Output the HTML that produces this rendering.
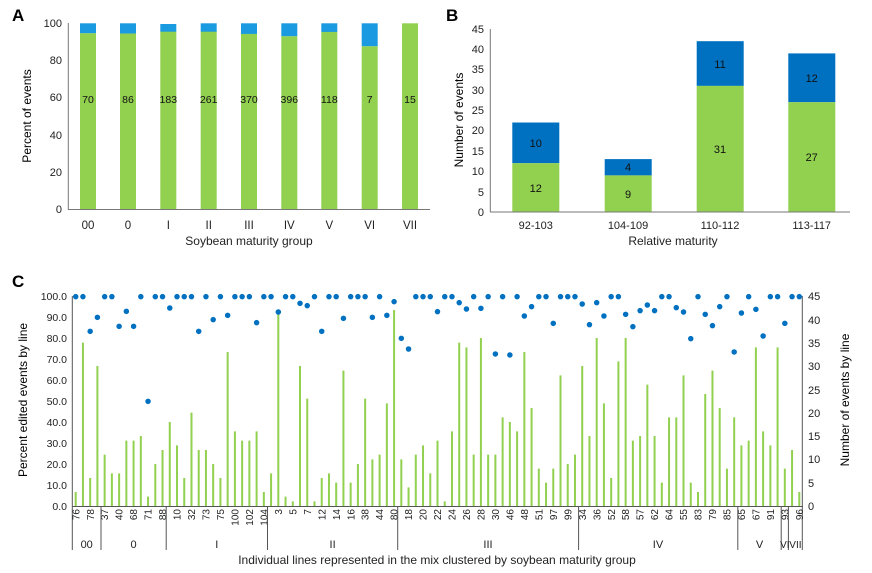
<!DOCTYPE html><html><head><meta charset="utf-8"><style>body{margin:0;background:#fff}svg{display:block;font-family:"Liberation Sans",Arial,sans-serif}</style></head><body>
<svg width="872" height="573" viewBox="0 0 872 573" xmlns="http://www.w3.org/2000/svg">
<rect width="872" height="573" fill="#fff"/>
<!-- Panel A -->
<text x="12" y="21" font-size="17" font-weight="bold">A</text>
<g font-size="11" fill="#222" text-anchor="end">
<text x="62" y="213">0</text><text x="62" y="176">20</text><text x="62" y="139">40</text><text x="62" y="101">60</text><text x="62" y="64">80</text><text x="62" y="27">100</text></g>
<text transform="translate(31,116) rotate(-90)" font-size="12" text-anchor="middle">Percent of events</text>
<g>
<rect x="80" y="23.3" width="16" height="10" fill="#1a9ae0"/><rect x="80" y="33.3" width="16" height="176" fill="#92d050"/>
<rect x="120" y="23.3" width="16" height="10.3" fill="#1a9ae0"/><rect x="120" y="33.5" width="16" height="176" fill="#92d050"/>
<rect x="160.3" y="24" width="16" height="8" fill="#1a9ae0"/><rect x="160.3" y="31.7" width="16" height="178" fill="#92d050"/>
<rect x="200.7" y="23.3" width="16" height="9" fill="#1a9ae0"/><rect x="200.7" y="31.7" width="16" height="178" fill="#92d050"/>
<rect x="241" y="23.3" width="16" height="11" fill="#1a9ae0"/><rect x="241" y="33.9" width="16" height="176" fill="#92d050"/>
<rect x="281.3" y="23.3" width="16" height="13" fill="#1a9ae0"/><rect x="281.3" y="36.3" width="16" height="173" fill="#92d050"/>
<rect x="321.3" y="23.3" width="16" height="9" fill="#1a9ae0"/><rect x="321.3" y="31.9" width="16" height="178" fill="#92d050"/>
<rect x="361.7" y="23.3" width="16" height="23" fill="#1a9ae0"/><rect x="361.7" y="46.3" width="16" height="163" fill="#92d050"/>
<rect x="402" y="23.3" width="16" height="186" fill="#92d050"/>
</g>
<line x1="68.3" y1="23" x2="68.3" y2="209.5" stroke="#777"/><line x1="68" y1="209.5" x2="430" y2="209.5" stroke="#777"/>
<g font-size="10.5" text-anchor="middle" fill="#111">
<text x="88" y="103">70</text><text x="128" y="103">86</text><text x="168.3" y="103">183</text><text x="208.7" y="103">261</text><text x="249" y="103">370</text><text x="289.3" y="103">396</text><text x="329.3" y="103">118</text><text x="369.7" y="103">7</text><text x="410" y="103">15</text></g>
<g font-size="11.5" text-anchor="middle" fill="#222">
<text x="88" y="229">00</text><text x="128" y="229">0</text><text x="168.3" y="229">I</text><text x="208.7" y="229">II</text><text x="249" y="229">III</text><text x="289.3" y="229">IV</text><text x="329.3" y="229">V</text><text x="369.7" y="229">VI</text><text x="410" y="229">VII</text>
<text x="249" y="245" font-size="12">Soybean maturity group</text></g>
<!-- Panel B -->
<text x="446" y="21" font-size="17" font-weight="bold">B</text>
<g font-size="11" fill="#222" text-anchor="end">
<text x="484" y="216">0</text><text x="484" y="196">5</text><text x="484" y="175">10</text><text x="484" y="155">15</text><text x="484" y="134">20</text><text x="484" y="114">25</text><text x="484" y="94">30</text><text x="484" y="73">35</text><text x="484" y="53">40</text><text x="484" y="33">45</text></g>
<text transform="translate(463,120) rotate(-90)" font-size="12" text-anchor="middle">Number of events</text>
<rect x="512.3" y="122.5" width="47" height="40.7" fill="#0070c0"/><rect x="512.3" y="163.2" width="47" height="48.8" fill="#92d050"/>
<rect x="604.7" y="159.1" width="47" height="16.3" fill="#0070c0"/><rect x="604.7" y="175.4" width="47" height="36.6" fill="#92d050"/>
<rect x="696.7" y="41.2" width="47" height="44.7" fill="#0070c0"/><rect x="696.7" y="85.9" width="47" height="126.1" fill="#92d050"/>
<rect x="788.3" y="53.4" width="47" height="48.8" fill="#0070c0"/><rect x="788.3" y="102.2" width="47" height="109.8" fill="#92d050"/>
<line x1="490.3" y1="29" x2="490.3" y2="212" stroke="#777"/><line x1="490" y1="212" x2="850" y2="212" stroke="#777"/>
<g font-size="11" text-anchor="middle" fill="#111">
<text x="535.8" y="147">10</text><text x="535.8" y="192">12</text><text x="628" y="171">4</text><text x="628" y="198">9</text><text x="720" y="68">11</text><text x="720" y="153">31</text><text x="811.7" y="82">12</text><text x="811.7" y="161">27</text></g>
<g font-size="11" text-anchor="middle" fill="#222">
<text x="535.8" y="229">92-103</text><text x="628" y="229">104-109</text><text x="720" y="229">110-112</text><text x="811.7" y="229">113-117</text>
<text x="673" y="245" font-size="12">Relative maturity</text></g>
<!-- Panel C -->
<text x="12" y="287" font-size="17" font-weight="bold">C</text>
<g font-size="10.5" fill="#222" text-anchor="end">
<text x="67" y="510">0.0</text><text x="67" y="489">10.0</text><text x="67" y="468">20.0</text><text x="67" y="447">30.0</text><text x="67" y="426">40.0</text><text x="67" y="405">50.0</text><text x="67" y="384">60.0</text><text x="67" y="363">70.0</text><text x="67" y="342">80.0</text><text x="67" y="321">90.0</text><text x="67" y="300">100.0</text></g>
<g font-size="11" fill="#222">
<text x="808" y="510">0</text><text x="808" y="487">5</text><text x="808" y="463">10</text><text x="808" y="440">15</text><text x="808" y="417">20</text><text x="808" y="394">25</text><text x="808" y="370">30</text><text x="808" y="347">35</text><text x="808" y="324">40</text><text x="808" y="300">45</text></g>
<text transform="translate(27,400) rotate(-90)" font-size="12" text-anchor="middle">Percent edited events by line</text>
<text transform="translate(849,400) rotate(-90)" font-size="12" text-anchor="middle">Number of events by line</text>
<line x1="72.3" y1="296" x2="72.3" y2="550" stroke="#555"/><line x1="802.3" y1="296" x2="802.3" y2="550" stroke="#555"/>
<line x1="72" y1="506.5" x2="803" y2="506.5" stroke="#555"/>
<g transform="translate(75.7,506) scale(7.236,-4.667)" stroke="#92d050" fill="none">
<path vector-effect="non-scaling-stroke" stroke-width="2" d="M0 0V3M1 0V35M2 0V6M3 0V30M4 0V11M5 0V7M6 0V7M7 0V14M8 0V14M9 0V15M10 0V2M11 0V9M12 0V12M13 0V18M14 0V13M15 0V6M16 0V20M17 0V12M18 0V12M19 0V9M20 0V6M21 0V33M22 0V16M23 0V14M24 0V14M25 0V16M26 0V3M27 0V7M28 0V41M29 0V2M30 0V1M31 0V30M32 0V23M33 0V1M34 0V6M35 0V7M36 0V5M37 0V29M38 0V5M39 0V9M40 0V23M41 0V10M42 0V11M43 0V22M44 0V42M45 0V10M46 0V4M47 0V11M48 0V13M49 0V7M50 0V14M51 0V1M52 0V16M53 0V35M54 0V34M55 0V11M56 0V36M57 0V11M58 0V11M59 0V19M60 0V18M61 0V16M62 0V33M63 0V21M64 0V8M65 0V5M66 0V8M67 0V28M68 0V9M69 0V11M70 0V30M71 0V15M72 0V36M73 0V22M74 0V6M75 0V31M76 0V36M77 0V14M78 0V15M79 0V26M80 0V15M81 0V5M82 0V19M83 0V19M84 0V28M85 0V5M86 0V3M87 0V24M88 0V29M89 0V21M90 0V8M91 0V19M92 0V13M93 0V14M94 0V34M95 0V16M96 0V13M97 0V34M98 0V8M99 0V12M100 0V3"/>
</g>
<g transform="translate(75.7,280) scale(7.236,0.3333)" stroke="#0070c0" fill="none">
<path vector-effect="non-scaling-stroke" stroke-width="5.5" stroke-linecap="round" d="M0 50h0M1 50h0M2 154h0M3 112h0M4 50h0M5 50h0M6 139h0M7 94h0M8 139h0M9 50h0M10 364h0M11 50h0M12 50h0M13 84h0M14 50h0M15 50h0M16 50h0M17 154h0M18 50h0M19 119h0M20 50h0M21 106h0M22 50h0M23 50h0M24 50h0M25 128h0M26 50h0M27 50h0M28 96h0M29 50h0M30 50h0M31 70h0M32 77h0M33 50h0M34 154h0M35 50h0M36 50h0M37 115h0M38 50h0M39 50h0M40 50h0M41 112h0M42 50h0M43 106h0M44 65h0M45 175h0M46 207h0M47 50h0M48 50h0M49 50h0M50 95h0M51 50h0M52 50h0M53 68h0M54 87h0M55 50h0M56 85h0M57 50h0M58 222h0M59 50h0M60 225h0M61 50h0M62 108h0M63 80h0M64 50h0M65 50h0M66 130h0M67 50h0M68 50h0M69 50h0M70 72h0M71 134h0M72 68h0M73 108h0M74 50h0M75 50h0M76 103h0M77 140h0M78 92h0M79 75h0M80 92h0M81 50h0M82 50h0M83 83h0M84 96h0M85 176h0M86 50h0M87 103h0M88 137h0M89 80h0M90 50h0M91 216h0M92 99h0M93 50h0M94 88h0M95 168h0M96 50h0M97 50h0M98 130h0M99 50h0M100 50h0"/>
</g>
<g font-size="10" fill="#222" text-anchor="end">
<text transform="translate(79.3,509) rotate(-90)">76</text><text transform="translate(93.8,509) rotate(-90)">78</text><text transform="translate(108.2,509) rotate(-90)">37</text><text transform="translate(122.7,509) rotate(-90)">40</text><text transform="translate(137.2,509) rotate(-90)">68</text><text transform="translate(151.7,509) rotate(-90)">71</text><text transform="translate(166.1,509) rotate(-90)">88</text><text transform="translate(180.6,509) rotate(-90)">10</text><text transform="translate(195.1,509) rotate(-90)">32</text><text transform="translate(209.5,509) rotate(-90)">73</text><text transform="translate(224,509) rotate(-90)">75</text><text transform="translate(238.5,509) rotate(-90)">100</text><text transform="translate(253,509) rotate(-90)">102</text><text transform="translate(267.4,509) rotate(-90)">104</text><text transform="translate(281.9,509) rotate(-90)">3</text><text transform="translate(296.4,509) rotate(-90)">5</text><text transform="translate(310.9,509) rotate(-90)">7</text><text transform="translate(325.3,509) rotate(-90)">12</text><text transform="translate(339.8,509) rotate(-90)">14</text><text transform="translate(354.3,509) rotate(-90)">16</text><text transform="translate(368.7,509) rotate(-90)">38</text><text transform="translate(383.2,509) rotate(-90)">44</text><text transform="translate(397.7,509) rotate(-90)">80</text><text transform="translate(412.2,509) rotate(-90)">18</text><text transform="translate(426.6,509) rotate(-90)">20</text><text transform="translate(441.1,509) rotate(-90)">22</text><text transform="translate(455.6,509) rotate(-90)">24</text><text transform="translate(470,509) rotate(-90)">26</text><text transform="translate(484.5,509) rotate(-90)">28</text><text transform="translate(499,509) rotate(-90)">30</text><text transform="translate(513.5,509) rotate(-90)">46</text><text transform="translate(527.9,509) rotate(-90)">48</text><text transform="translate(542.4,509) rotate(-90)">51</text><text transform="translate(556.9,509) rotate(-90)">97</text><text transform="translate(571.3,509) rotate(-90)">99</text><text transform="translate(585.8,509) rotate(-90)">34</text><text transform="translate(600.3,509) rotate(-90)">36</text><text transform="translate(614.8,509) rotate(-90)">52</text><text transform="translate(629.2,509) rotate(-90)">58</text><text transform="translate(643.7,509) rotate(-90)">57</text><text transform="translate(658.2,509) rotate(-90)">62</text><text transform="translate(672.7,509) rotate(-90)">64</text><text transform="translate(687.1,509) rotate(-90)">55</text><text transform="translate(701.6,509) rotate(-90)">83</text><text transform="translate(716.1,509) rotate(-90)">79</text><text transform="translate(730.5,509) rotate(-90)">85</text><text transform="translate(745,509) rotate(-90)">65</text><text transform="translate(759.5,509) rotate(-90)">67</text><text transform="translate(773.9,509) rotate(-90)">91</text><text transform="translate(788.4,509) rotate(-90)">93</text><text transform="translate(802.9,509) rotate(-90)">96</text></g>
<g stroke="#555">
<line x1="101" y1="506" x2="101" y2="550"/><line x1="166.2" y1="506" x2="166.2" y2="550"/><line x1="267.5" y1="506" x2="267.5" y2="550"/><line x1="397.7" y1="506" x2="397.7" y2="550"/><line x1="578.6" y1="506" x2="578.6" y2="550"/><line x1="737.8" y1="506" x2="737.8" y2="550"/><line x1="781.2" y1="506" x2="781.2" y2="550"/><line x1="788.4" y1="506" x2="788.4" y2="550"/></g>
<g font-size="11" text-anchor="middle" fill="#222">
<text x="86.7" y="548">00</text><text x="133.6" y="548">0</text><text x="216.8" y="548">I</text><text x="332.6" y="548">II</text><text x="488" y="548">III</text><text x="658" y="548">IV</text><text x="759.5" y="548">V</text><text x="784.8" y="548" font-size="10">VI</text><text x="795.4" y="548" font-size="10">VII</text>
<text x="437" y="564" font-size="12">Individual lines represented in the mix clustered by soybean maturity group</text></g>
</svg>
</body></html>
